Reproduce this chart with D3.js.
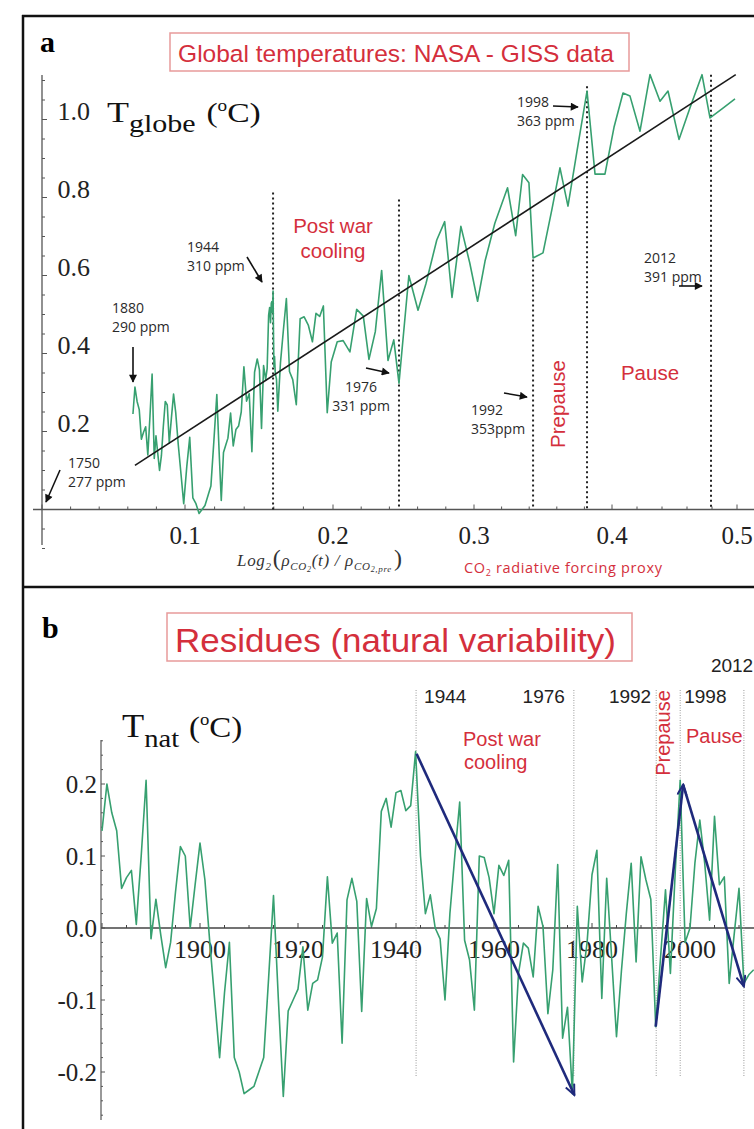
<!DOCTYPE html>
<html><head><meta charset="utf-8">
<script src="https://cdn.jsdelivr.net/npm/d3@7/dist/d3.min.js"></script>
<style>html,body{margin:0;padding:0;background:#fff;}svg{display:block;}</style>
</head><body>
<svg id="chart" width="754" height="1129"></svg>
<script>
// ---------------- DATA ----------------
const firstYear = 1880;
// CO2 radiative forcing proxy log2(rho/rho_pre) for each year 1880..2013
const forcing = [
0.0636,0.0650,0.0665,0.0680,0.0695,0.0710,0.0725,0.0740,0.0755,0.0770,
0.0785,0.0797,0.0810,0.0822,0.0835,0.0848,0.0862,0.0876,0.0890,0.0905,
0.0920,0.0935,0.0953,0.0972,0.0991,0.1012,0.1032,0.1053,0.1074,0.1095,
0.1115,0.1135,0.1155,0.1175,0.1195,0.1215,0.1230,0.1245,0.1260,0.1275,
0.1290,0.1308,0.1326,0.1344,0.1362,0.1380,0.1398,0.1416,0.1434,0.1452,
0.1470,0.1488,0.1503,0.1517,0.1531,0.1545,0.1555,0.1565,0.1572,0.1578,
0.1583,0.1587,0.1590,0.1593,0.1595,0.1598,0.1601,0.1605,0.1610,0.1618,
0.1627,0.1645,0.1665,0.1685,0.1706,0.1728,0.1752,0.1778,0.1805,0.1833,
0.1861,0.1885,0.1910,0.1935,0.1961,0.1988,0.2030,0.2072,0.2120,0.2168,
0.2215,0.2255,0.2300,0.2345,0.2390,0.2431,0.2468,0.2538,0.2603,0.2659,
0.2736,0.2792,0.2844,0.2907,0.2970,0.3026,0.3080,0.3151,0.3243,0.3302,
0.3352,0.3398,0.3428,0.3500,0.3565,0.3623,0.3681,0.3746,0.3819,0.3877,
0.3949,0.4016,0.4088,0.4144,0.4224,0.4304,0.4384,0.4448,0.4536,0.4624,
0.4720,0.4784,0.4880,0.4984];
// Global temperature (panel a), 1880..2013
const tGlobe = [
0.245,0.314,0.277,0.256,0.180,0.198,0.212,0.140,0.239,0.347,
0.131,0.189,0.142,0.100,0.138,0.211,0.277,0.268,0.171,0.235,
0.296,0.249,0.166,0.091,0.015,0.110,0.185,0.030,0.015,-0.010,
0.000,0.010,0.035,0.060,0.175,0.295,0.153,0.023,0.146,0.165,
0.183,0.247,0.163,0.205,0.214,0.250,0.366,0.278,0.297,0.148,
0.352,0.386,0.358,0.208,0.369,0.333,0.361,0.498,0.518,0.479,
0.529,0.533,0.505,0.513,0.560,0.445,0.366,0.392,0.348,0.335,
0.252,0.376,0.461,0.541,0.354,0.333,0.269,0.489,0.494,0.473,
0.430,0.503,0.495,0.522,0.248,0.378,0.430,0.433,0.404,0.513,
0.496,0.385,0.456,0.613,0.382,0.435,0.324,0.600,0.511,0.579,
0.691,0.738,0.544,0.726,0.632,0.534,0.637,0.734,0.825,0.702,
0.859,0.838,0.645,0.658,0.770,0.876,0.778,0.918,1.073,0.860,
0.860,0.980,1.068,1.060,0.970,1.115,1.047,1.073,0.949,1.030,
1.115,1.004,1.027,1.053];
// Residues T_nat (panel b), 1880..2013
const tNat = [
0.135,0.200,0.160,0.135,0.055,0.070,0.080,0.005,0.100,0.205,
-0.015,0.040,-0.010,-0.055,-0.020,0.050,0.113,0.100,0.000,0.060,
0.118,0.067,-0.020,-0.100,-0.180,-0.090,-0.020,-0.180,-0.200,-0.230,
-0.225,-0.220,-0.200,-0.180,-0.070,0.045,-0.100,-0.234,-0.115,-0.100,
-0.085,-0.026,-0.114,-0.077,-0.072,-0.040,0.071,-0.021,-0.007,-0.160,
0.039,0.069,0.037,-0.116,0.041,0.002,0.027,0.162,0.180,0.140,
0.188,0.191,0.163,0.170,0.245,0.100,0.020,0.046,0.000,-0.015,
-0.100,0.020,0.100,0.175,-0.017,-0.044,-0.114,0.100,0.098,0.070,
0.020,0.087,0.073,0.094,-0.186,-0.063,-0.021,-0.028,-0.068,0.030,
0.002,-0.119,-0.058,0.088,-0.153,-0.110,-0.230,0.030,-0.075,-0.020,
0.074,0.108,-0.098,0.069,-0.040,-0.151,-0.060,0.020,0.090,-0.047,
0.099,0.067,0.040,-0.137,-0.040,0.053,-0.063,0.080,0.205,-0.020,
0.000,0.090,0.150,0.090,0.011,0.155,0.060,0.071,-0.077,-0.010,
0.055,-0.077,-0.065,-0.058];

const xTicksA = [0.1, 0.2, 0.3, 0.4, 0.5];
const yTicksA = [0.2, 0.4, 0.6, 0.8, 1.0];
const xTicksB = [1900, 1920, 1940, 1960, 1980, 2000];
const yTicksB = [-0.2, -0.1, 0.0, 0.1, 0.2];

// regression line ends (forcing, T)
const trendEnds = [[0.065, 0.113], [0.499, 1.115]];
// period markers panel a
const periodYearsA = [1944, 1976, 1992, 1998, 2012];
const periodForcingA = [0.1595, 0.2468, 0.3428, 0.3819, 0.4792];
const periodTopA = [0.813, 0.795, 0.641, 1.085, 1.115];
// period markers panel b
const periodPosB = [1944.1, 1976.3, 1993.1, 1998.0, 2011.0];
const periodLabelsB = ["1944", "1976", "1992", "1998", "2012"];
// blue trend arrows panel b [start, end] as [year, T]
const arrowsB = [
  [[1944.2, 0.242], [1976.4, -0.232]],
  [[1993.0, -0.137], [1998.6, 0.199]],
  [[1998.6, 0.199], [2011.0, -0.081]]
];

// ---------------- DRAW ----------------
const SERIF = '"Liberation Serif","Times New Roman",serif';
const SANS = '"Liberation Sans",Arial,sans-serif';
const NOTE = '"Open Sans","Noto Sans",sans-serif';
const RED = '#d42f3c';
const GREEN = '#37a070';
const NAVY = '#1f2a7c';
const AX = '#555';

const svg = d3.select('#chart');
svg.append('rect').attr('width', 754).attr('height', 1129).attr('fill', '#fff');

const defs = svg.append('defs');
defs.append('marker').attr('id', 'ah').attr('viewBox', '0 0 10 10')
  .attr('refX', 9).attr('refY', 5).attr('markerWidth', 9).attr('markerHeight', 8)
  .attr('markerUnits', 'userSpaceOnUse').attr('orient', 'auto')
  .append('path').attr('d', 'M0,0L10,5L0,10Z').attr('fill', '#111');
defs.append('marker').attr('id', 'bh').attr('viewBox', '0 0 10 10')
  .attr('refX', 9.5).attr('refY', 5).attr('markerWidth', 13).attr('markerHeight', 11)
  .attr('markerUnits', 'userSpaceOnUse').attr('orient', 'auto')
  .append('path').attr('d', 'M0,0.8L9.5,5L0,9.2').attr('fill', 'none')
  .attr('stroke', NAVY).attr('stroke-width', 1.8);

// frame
const frame = svg.append('g').attr('stroke', '#111').attr('stroke-width', 2.5);
frame.append('line').attr('x1', 22).attr('y1', 16).attr('x2', 754).attr('y2', 16);
frame.append('line').attr('x1', 23).attr('y1', 15).attr('x2', 23).attr('y2', 1129);
frame.append('line').attr('x1', 22).attr('y1', 587).attr('x2', 754).attr('y2', 587);

// ===== Panel a =====
const xA = d3.scaleLinear().domain([0, 0.1, 0.2, 0.3, 0.4, 0.5]).range([42, 185, 333, 474, 612, 737]);
const yA = d3.scaleLinear().domain([0, 1]).range([509.5, 119.5]);
const gA = svg.append('g');

gA.append('text').attr('x', 40).attr('y', 52).attr('font-family', SERIF)
  .attr('font-weight', 'bold').attr('font-size', 30).text('a');
gA.append('rect').attr('x', 170).attr('y', 33).attr('width', 459).attr('height', 38)
  .attr('fill', '#fff').attr('stroke', '#e79a9a').attr('stroke-width', 1.5);
gA.append('text').attr('x', 396).attr('y', 62).attr('text-anchor', 'middle')
  .attr('font-family', SANS).attr('font-size', 24.5).attr('fill', RED)
  .text('Global temperatures: NASA - GISS data');

// axes
gA.append('line').attr('x1', 33).attr('x2', 754).attr('y1', yA(0)).attr('y2', yA(0))
  .attr('stroke', AX).attr('stroke-width', 1.5);
gA.append('line').attr('x1', xA(0)).attr('x2', xA(0)).attr('y1', 75).attr('y2', 545)
  .attr('stroke', AX).attr('stroke-width', 1.3);
d3.range(0, 0.5001, 0.02).forEach(v => {
  const major = Math.abs(v * 10 - Math.round(v * 10)) < 1e-6;
  gA.append('line').attr('x1', xA(v)).attr('x2', xA(v))
    .attr('y1', yA(0)).attr('y2', yA(0) - (major ? 5 : 3)).attr('stroke', AX).attr('stroke-width', 1);
});
d3.range(-0.1, 1.1001, 0.05).forEach(v => {
  const major = Math.abs(v * 5 - Math.round(v * 5)) < 1e-6;
  gA.append('line').attr('y1', yA(v)).attr('y2', yA(v))
    .attr('x1', xA(0)).attr('x2', xA(0) + (major ? 5 : 3)).attr('stroke', AX).attr('stroke-width', 1);
});
gA.selectAll('.xla').data(xTicksA).enter().append('text')
  .attr('x', d => xA(d)).attr('y', 544).attr('text-anchor', 'middle')
  .attr('font-family', SERIF).attr('font-size', 25).attr('fill', '#222')
  .text(d => d.toFixed(1));
gA.selectAll('.yla').data(yTicksA).enter().append('text')
  .attr('x', 90).attr('y', d => yA(d)).attr('text-anchor', 'end')
  .attr('font-family', SERIF).attr('font-size', 26).attr('fill', '#222')
  .text(d => d.toFixed(1));

// y label
const tg = gA.append('text').attr('transform', 'translate(107,122) scale(1.2,1)')
  .attr('font-family', SERIF).attr('font-size', 30).attr('fill', '#111');
tg.append('tspan').text('T');
tg.append('tspan').attr('font-size', 25).attr('dy', 10).text('globe');
tg.append('tspan').attr('font-size', 28).attr('dy', -10).attr('dx', 9).text('(');
tg.append('tspan').attr('font-size', 16).attr('dy', -11).text('o');
tg.append('tspan').attr('font-size', 28).attr('dy', 11).text('C)');

// x label
const xl = gA.append('text').attr('x', 237).attr('y', 566)
  .attr('font-family', SERIF).attr('font-style', 'italic').attr('font-size', 17).attr('fill', '#333')
  .attr('textLength', 165).attr('lengthAdjust', 'spacing');
xl.append('tspan').text('Log');
xl.append('tspan').attr('font-size', 11).attr('dy', 4).text('2');
xl.append('tspan').attr('font-size', 24).attr('font-style', 'normal').attr('dy', -4).attr('dx', 1).text('(');
xl.append('tspan').text('ρ');
xl.append('tspan').attr('font-size', 11).attr('dy', 4).text('CO');
xl.append('tspan').attr('font-size', 8).attr('dy', 2).text('2');
xl.append('tspan').attr('dy', -6).text('(t) / ρ');
xl.append('tspan').attr('font-size', 11).attr('dy', 4).text('CO');
xl.append('tspan').attr('font-size', 8).attr('dy', 2).text('2');
xl.append('tspan').attr('font-size', 9).attr('dy', 0).text(',pre');
xl.append('tspan').attr('font-size', 24).attr('font-style', 'normal').attr('dy', -6).attr('dx', 2).text(')');

const cx = gA.append('text').attr('x', 464).attr('y', 573)
  .attr('font-family', NOTE).attr('font-size', 14.5).attr('fill', RED)
  .attr('textLength', 198).attr('lengthAdjust', 'spacing');
cx.append('tspan').text('CO');
cx.append('tspan').attr('font-size', 9).attr('dy', 3).text('2');
cx.append('tspan').attr('dy', -3).text(' radiative forcing proxy');

// dotted period lines
periodForcingA.forEach((f, i) => {
  gA.append('line').attr('x1', xA(f)).attr('x2', xA(f))
    .attr('y1', yA(periodTopA[i])).attr('y2', yA(0))
    .attr('stroke', '#222').attr('stroke-width', 2).attr('stroke-dasharray', '2,3');
});

// green data curve
const dataA = forcing.map((f, i) => ({ f, t: tGlobe[i] }));
gA.append('path').datum(dataA)
  .attr('d', d3.line().x(d => xA(d.f)).y(d => yA(d.t)))
  .attr('fill', 'none').attr('stroke', GREEN).attr('stroke-width', 1.6).attr('stroke-linejoin', 'round');

// regression line
gA.append('path').datum(trendEnds)
  .attr('d', d3.line().x(d => xA(d[0])).y(d => yA(d[1])))
  .attr('stroke', '#1a1a1a').attr('stroke-width', 1.6);

// annotations
function note(g, x, y, lines, anchor) {
  lines.forEach((s, i) => g.append('text').attr('x', x).attr('y', y + i * 18.5)
    .attr('text-anchor', anchor || 'start').attr('font-family', NOTE)
    .attr('font-size', 14).attr('fill', '#2a2a2a').text(s));
}
function arrow(g, x1, y1, x2, y2) {
  g.append('line').attr('x1', x1).attr('y1', y1).attr('x2', x2).attr('y2', y2)
    .attr('stroke', '#111').attr('stroke-width', 1.6).attr('marker-end', 'url(#ah)');
}
note(gA, 68, 468, ['1750', '277 ppm']); arrow(gA, 60, 470, 46, 502);
note(gA, 112, 313, ['1880', '290 ppm']); arrow(gA, 133, 347, 133, 382);
note(gA, 187, 252, ['1944', '310 ppm']); arrow(gA, 247, 257, 262, 282);
note(gA, 361, 392, ['1976', '331 ppm'], 'middle'); arrow(gA, 366, 368, 389, 373);
note(gA, 471, 415, ['1992', '353ppm']); arrow(gA, 504, 393, 527, 397);
note(gA, 517, 107, ['1998', '363 ppm']); arrow(gA, 553, 106, 578, 107);
note(gA, 644, 263, ['2012', '391 ppm']); arrow(gA, 679, 286, 702, 286);

function red(g, x, y, s, size, anchor) {
  return g.append('text').attr('x', x).attr('y', y).attr('text-anchor', anchor || 'start')
    .attr('font-family', SANS).attr('font-size', size).attr('fill', RED).text(s);
}
red(gA, 333, 233, 'Post war', 20.5, 'middle');
red(gA, 333, 258, 'cooling', 20.5, 'middle');
red(gA, 650, 380, 'Pause', 20.5, 'middle');
gA.append('text').attr('transform', 'translate(565,404) rotate(-90)').attr('text-anchor', 'middle')
  .attr('font-family', SANS).attr('font-size', 20.5).attr('fill', RED).text('Prepause');

// ===== Panel b =====
const xB = d3.scaleLinear().domain([1880, 2000]).range([102, 690]);
const yB = d3.scaleLinear().domain([0, 0.2]).range([928, 784]);
const gB = svg.append('g');

gB.append('text').attr('x', 42).attr('y', 638).attr('font-family', SERIF)
  .attr('font-weight', 'bold').attr('font-size', 30).text('b');
gB.append('rect').attr('x', 167).attr('y', 613).attr('width', 465).attr('height', 48)
  .attr('fill', '#fff').attr('stroke', '#e79a9a').attr('stroke-width', 1.5);
gB.append('text').attr('x', 175).attr('y', 652)
  .attr('font-family', SANS).attr('font-size', 33).attr('fill', RED)
  .attr('textLength', 441).attr('lengthAdjust', 'spacingAndGlyphs')
  .text('Residues (natural variability)');

// axes
gB.append('line').attr('x1', 101).attr('x2', 754).attr('y1', yB(0)).attr('y2', yB(0))
  .attr('stroke', '#444').attr('stroke-width', 1.5);
gB.append('line').attr('x1', 101).attr('x2', 101).attr('y1', 740).attr('y2', 1120)
  .attr('stroke', AX).attr('stroke-width', 1.2);
d3.range(1880, 2011, 5).forEach(v => {
  const major = v % 20 === 0;
  gB.append('line').attr('x1', xB(v)).attr('x2', xB(v))
    .attr('y1', yB(0)).attr('y2', yB(0) - (major ? 5 : 3)).attr('stroke', '#444').attr('stroke-width', 1);
});
d3.range(-0.26, 0.2601, 0.02).forEach(v => {
  const major = Math.abs(v * 10 - Math.round(v * 10)) < 1e-6;
  gB.append('line').attr('y1', yB(v)).attr('y2', yB(v))
    .attr('x1', 101).attr('x2', 101 + (major ? 4 : 2)).attr('stroke', AX).attr('stroke-width', 1);
});
gB.selectAll('.xlb').data(xTicksB).enter().append('text')
  .attr('x', d => xB(d)).attr('y', 958).attr('text-anchor', 'middle')
  .attr('font-family', SERIF).attr('font-size', 26).attr('fill', '#222').text(d => d);
gB.selectAll('.ylb').data(yTicksB).enter().append('text')
  .attr('x', 97).attr('y', d => yB(d) + 8.5).attr('text-anchor', 'end')
  .attr('font-family', SERIF).attr('font-size', 25).attr('fill', '#222')
  .text(d => d.toFixed(1));

const tn = gB.append('text').attr('transform', 'translate(122,737) scale(1.1,1)')
  .attr('font-family', SERIF).attr('font-size', 33).attr('fill', '#111');
tn.append('tspan').text('T');
tn.append('tspan').attr('font-size', 26).attr('dy', 10).text('nat');
tn.append('tspan').attr('font-size', 30).attr('dy', -10).attr('dx', 9).text('(');
tn.append('tspan').attr('font-size', 17).attr('dy', -12).text('o');
tn.append('tspan').attr('font-size', 30).attr('dy', 12).text('C)');

// grey dotted period lines
periodPosB.forEach(p => {
  gB.append('line').attr('x1', xB(p)).attr('x2', xB(p)).attr('y1', 690).attr('y2', 1077)
    .attr('stroke', '#9a9a9a').attr('stroke-width', 1).attr('stroke-dasharray', '1,1.5');
});
const lbl = [
  { i: 0, dx: 8, y: 703, a: 'start' }, { i: 1, dx: -9, y: 703, a: 'end' },
  { i: 2, dx: -5, y: 703, a: 'end' }, { i: 3, dx: 4, y: 703, a: 'start' },
  { i: 4, dx: -33, y: 672, a: 'start' }
];
lbl.forEach(l => {
  gB.append('text').attr('x', xB(periodPosB[l.i]) + l.dx).attr('y', l.y).attr('text-anchor', l.a)
    .attr('font-family', SANS).attr('font-size', 19).attr('fill', '#222').text(periodLabelsB[l.i]);
});

// green residual curve
const dataB = tNat.map((t, i) => ({ y: firstYear + i, t }));
gB.append('path').datum(dataB)
  .attr('d', d3.line().x(d => xB(d.y)).y(d => yB(d.t)))
  .attr('fill', 'none').attr('stroke', GREEN).attr('stroke-width', 1.6).attr('stroke-linejoin', 'round');

// blue arrows
arrowsB.forEach(a => {
  gB.append('line').attr('x1', xB(a[0][0])).attr('y1', yB(a[0][1]))
    .attr('x2', xB(a[1][0])).attr('y2', yB(a[1][1]))
    .attr('stroke', NAVY).attr('stroke-width', 2.6).attr('marker-end', 'url(#bh)');
});

red(gB, 463, 746, 'Post war', 20);
red(gB, 464, 769, 'cooling', 20);
red(gB, 686, 743, 'Pause', 20);
gB.append('text').attr('transform', 'translate(670,733) rotate(-90)').attr('text-anchor', 'middle')
  .attr('font-family', SANS).attr('font-size', 20).attr('fill', RED).text('Prepause');
</script>
</body></html>
